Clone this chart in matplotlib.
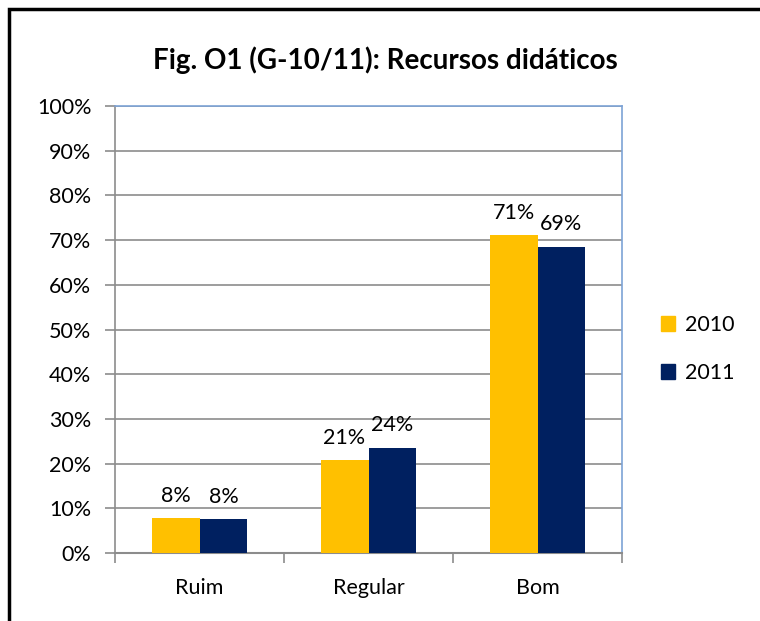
import matplotlib
matplotlib.use("Agg")
import matplotlib.pyplot as plt
import matplotlib.patches as mpatches
import numpy as np

plt.rcParams['font.family'] = ['Lato', 'DejaVu Sans']

categories = ["Ruim", "Regular", "Bom"]
series_names = ["2010", "2011"]
values_2010 = [7.8, 20.8, 71.1]
values_2011 = [7.6, 23.5, 68.5]
labels_2010 = ["8%", "21%", "71%"]
labels_2011 = ["8%", "24%", "69%"]
colors = ["#FFC000", "#002060"]

fig = plt.figure(figsize=(7.6, 6.21), dpi=100)
ax = fig.add_axes([115/760, 1-553/621, (622-115)/760, (553-106)/621])

x = np.arange(len(categories))
w = 0.284
b1 = ax.bar(x - w/2, values_2010, w, color=colors[0], label=series_names[0], zorder=3)
b2 = ax.bar(x + w/2, values_2011, w, color=colors[1], label=series_names[1], zorder=3)

for bars, labs in ((b1, labels_2010), (b2, labels_2011)):
    for r, t in zip(bars, labs):
        ax.annotate(t, (r.get_x() + r.get_width()/2, r.get_height()),
                    xytext=(0, 9), textcoords="offset points",
                    ha="center", va="bottom", fontsize=15.5)

ax.set_xlim(-0.5, 2.5)
ax.set_ylim(0, 100)
ax.set_yticks(np.arange(0, 101, 10))
ax.set_yticklabels([f"{v}%" for v in range(0, 101, 10)], fontsize=15.5)
ax.yaxis.grid(True, color="#8C8C8C", linewidth=1.2, zorder=0)
ax.set_axisbelow(True)

ax.set_xticks(x)
ax.set_xticklabels(categories, fontsize=15.5)
ax.tick_params(axis="x", which="major", length=0, pad=18)
ax.set_xticks([-0.5, 0.5, 1.5, 2.5], minor=True)
ax.tick_params(axis="x", which="minor", length=7, color="#8C8C8C", width=1.2)
ax.tick_params(axis="y", length=7, color="#8C8C8C", width=1.2, pad=10)

for s in ("top", "right"):
    ax.spines[s].set_color("#7DA3D6")
    ax.spines[s].set_linewidth(1.2)
ax.spines["left"].set_color("#8C8C8C")
ax.spines["bottom"].set_color("#8C8C8C")
ax.spines["left"].set_linewidth(1.2)
ax.spines["bottom"].set_linewidth(1.5)

handles = [mpatches.Patch(color=c) for c in colors]
fig.legend(handles, series_names, loc="center left", bbox_to_anchor=(642/760, 1-349/621),
           frameon=False, fontsize=15.5, handlelength=0.65, handleheight=0.65,
           handletextpad=0.45, labelspacing=1.3)

fig.text(385/760, 1-60/621, "Fig. O1 (G-10/11): Recursos didáticos",
         ha="center", va="center", fontsize=20, fontweight="bold")

border = mpatches.Rectangle((9/760, -0.2), 1.5, 0.2 + 1 - 9/621,
                            transform=fig.transFigure, fill=False,
                            edgecolor="black", linewidth=2.5, clip_on=False)
fig.patches.append(border)

fig.savefig("out.png", dpi=100)
